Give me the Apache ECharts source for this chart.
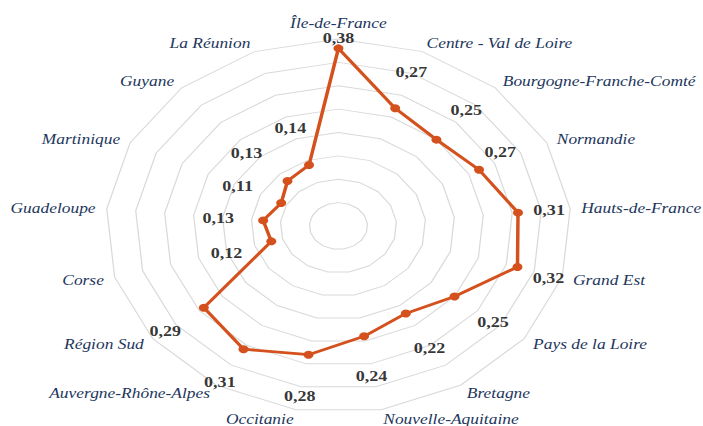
<!DOCTYPE html>
<html><head><meta charset="utf-8">
<script src="https://cdn.jsdelivr.net/npm/echarts@6/dist/echarts.min.js"></script>
<style>
html,body{margin:0;padding:0;background:#fff;overflow:hidden}
#wrap{width:703px;height:426px;overflow:hidden}
#c{width:565px;height:426px;transform:scaleX(1.2443);transform-origin:0 0}
</style></head><body><div id="wrap"><div id="c"></div></div>
<script>
// Data (clockwise from the top)
const regions = ['Île-de-France','Centre - Val de Loire','Bourgogne-Franche-Comté','Normandie','Hauts-de-France','Grand Est','Pays de la Loire','Bretagne','Nouvelle-Aquitaine','Occitanie','Auvergne-Rhône-Alpes','Région Sud','Corse','Guadeloupe','Martinique','Guyane','La Réunion'];
const values = [0.38,0.27,0.25,0.27,0.31,0.32,0.25,0.22,0.24,0.28,0.31,0.29,0.12,0.13,0.11,0.13,0.14];
const scaleMax = 0.4;
const ringCount = 8;

// Layout: label offsets (px) from each point
const labelOffsets = [[0,-10],[13,-36],[24,-30],[17,-18],[25,-3],[25,11],[31,26],[19,35],[6,40],[-7,41],[-19,33],[-31,23],[-36,12],[-36,-2],[-35,-17],[-33,-28],[-15,-37]];

const CX = 272, CY = 226, R = 187;
const N = regions.length;
// ECharts radar runs counter-clockwise: reorder so the picture runs clockwise
const order = [0].concat(Array.from({length:N-1},(_,k)=>N-1-k));

const chart = echarts.init(document.getElementById('c'), null, {renderer:'svg'});
const fmt = v => v.toFixed(2).replace('.', ',');

chart.setOption({
  animation:false,
  radar:{
    center:[CX,CY], radius:R, startAngle:90, splitNumber:ringCount, shape:'polygon',
    indicator: order.map(i=>({name:regions[i], min:0, max:scaleMax})),
    nameGap:9,
    axisName:{color:'#22365c', fontFamily:'"Liberation Serif", serif', fontStyle:'italic', fontSize:14},
    splitLine:{lineStyle:{color:'#d9d9d9', width:1}},
    splitArea:{show:false},
    axisLine:{show:false}, axisTick:{show:false}, axisLabel:{show:false}
  },
  polar:{center:[CX,CY], radius:R},
  angleAxis:{type:'value', min:0, max:N, startAngle:90, clockwise:true, show:false},
  radiusAxis:{type:'value', min:0, max:scaleMax, show:false},
  series:[
    {
      type:'radar', silent:true,
      symbol:'circle', symbolSize:8,
      lineStyle:{color:'#d4511e', width:2.8},
      itemStyle:{color:'#d4511e'},
      data:[{value: order.map(i=>values[i])}]
    },
    {
      type:'scatter', coordinateSystem:'polar', silent:true, z:5,
      symbolSize:0,
      label:{show:true, position:'inside', color:'#000', fontFamily:'"Liberation Serif", serif', fontWeight:'bold', fontSize:14.5,
        formatter:p=>fmt(p.value[0])},
      data: values.map((v,i)=>({value:[v,i], label:{offset:labelOffsets[i]}}))
    }
  ]
});
</script></body></html>
